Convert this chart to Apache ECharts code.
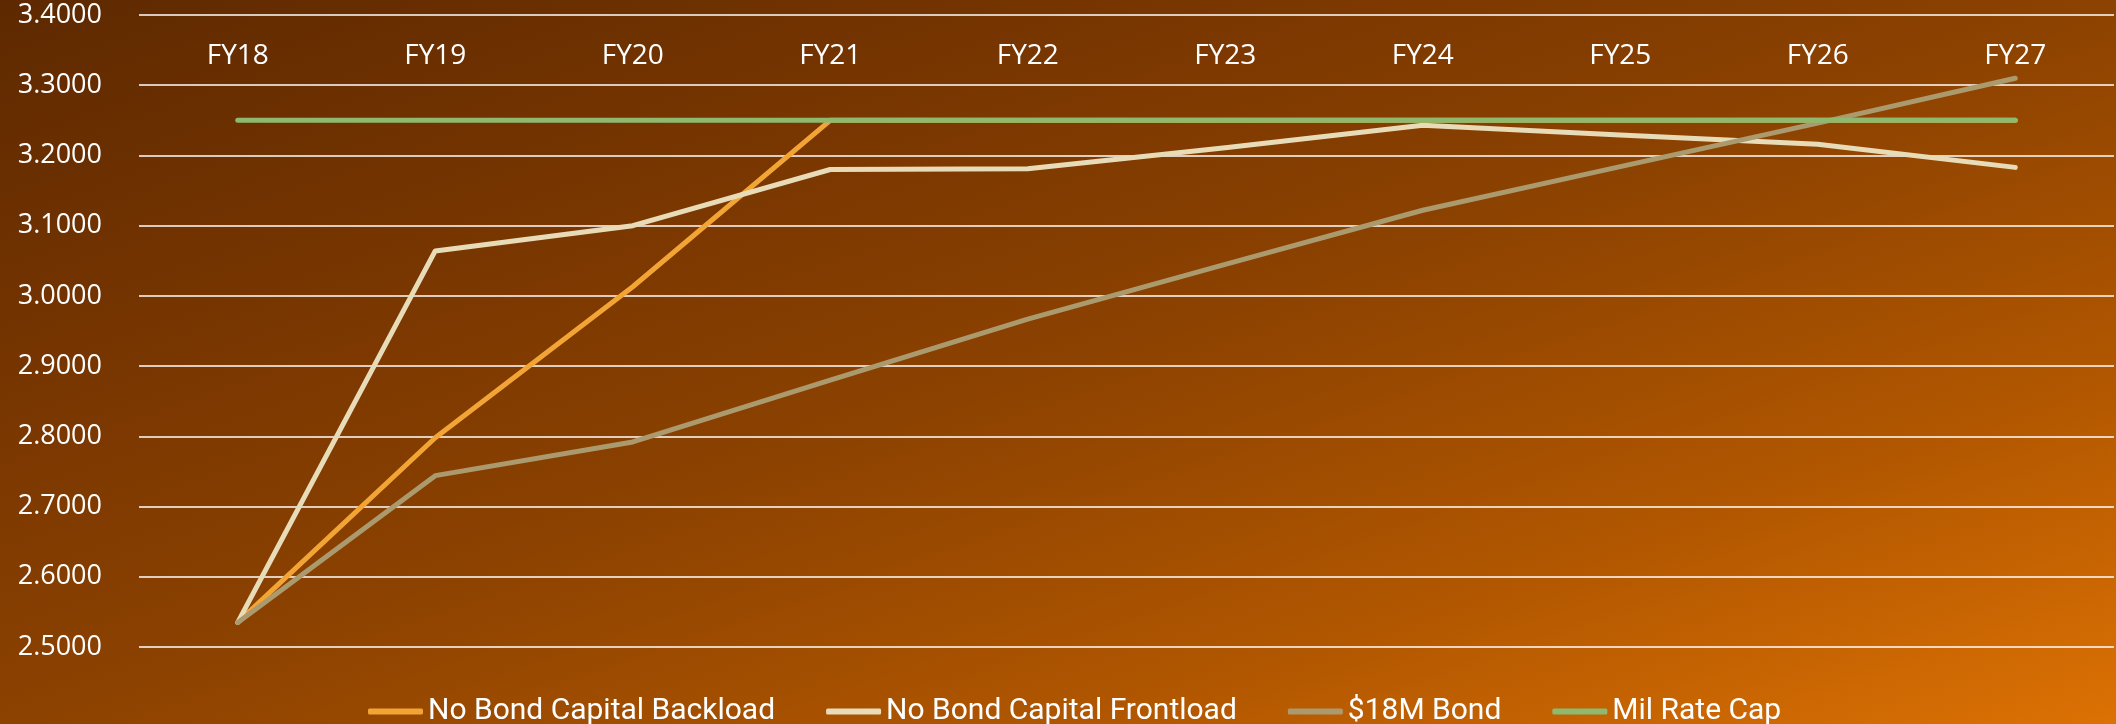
<!DOCTYPE html>
<html>
<head>
<meta charset="utf-8">
<script src="https://cdn.jsdelivr.net/npm/echarts@6/dist/echarts.min.js"></script>
<style>
  html, body { margin: 0; padding: 0; }
  #chart {
    width: 2116px; height: 724px;
    background: linear-gradient(to bottom right, #5e2900 0%, #7a3700 30%, #8c4200 50%, #b05600 75%, #dc7104 100%);
  }
</style>
</head>
<body>
<div id="chart"></div>
<script>
const categories = ['FY18', 'FY19', 'FY20', 'FY21', 'FY22', 'FY23', 'FY24', 'FY25', 'FY26', 'FY27'];
const noBondBackload = [2.535, 2.798, 3.013, 3.250, 3.250, 3.250, 3.250, 3.250, 3.250, 3.250];
const noBondFrontload = [2.535, 3.064, 3.100, 3.180, 3.181, 3.211, 3.243, 3.229, 3.216, 3.183];
const bond18M = [2.535, 2.744, 2.792, 2.880, 2.967, 3.045, 3.122, 3.184, 3.246, 3.310];
const milRateCap = [3.25, 3.25, 3.25, 3.25, 3.25, 3.25, 3.25, 3.25, 3.25, 3.25];
const seriesNames = ['No Bond Capital Backload', 'No Bond Capital Frontload', '$18M Bond', 'Mil Rate Cap'];
const seriesColors = ['#f2a535', '#e8dcb8', '#ab9a6e', '#8eba70'];
const seriesData = [noBondBackload, noBondFrontload, bond18M, milRateCap];

const chart = echarts.init(document.getElementById('chart'), null, { renderer: 'canvas' });
chart.setOption({
  backgroundColor: 'transparent',
  animation: false,
  grid: { left: 139, right: 2, top: 15, bottom: 77 },
  legend: {
    left: 363, top: 691,
    icon: 'roundRect',
    itemWidth: 55, itemHeight: 6,
    itemGap: 51,
    textStyle: { color: '#ffffff', fontSize: 30, lineHeight: 31, fontFamily: 'Roboto, "Open Sans", sans-serif' },
    data: seriesNames
  },
  xAxis: {
    type: 'category',
    data: categories,
    position: 'top',
    boundaryGap: true,
    axisLine: { show: false },
    axisTick: { show: false },
    axisLabel: {
      inside: true, margin: 41, verticalAlign: 'middle',
      color: '#ffffff', fontSize: 28, fontFamily: '"Open Sans", sans-serif'
    }
  },
  yAxis: {
    type: 'value',
    min: 2.5, max: 3.4, interval: 0.1,
    axisLine: { show: false },
    axisTick: { show: false },
    splitLine: { lineStyle: { color: '#ffffff', width: 1.5 } },
    axisLabel: {
      margin: 37, color: '#ffffff', fontSize: 27, fontFamily: '"Open Sans", sans-serif',
      formatter: v => v.toFixed(4)
    }
  },
  series: seriesNames.map((name, i) => ({
    name: name,
    type: 'line',
    data: seriesData[i],
    symbol: 'none',
    color: seriesColors[i],
    lineStyle: { width: 5, cap: 'round', join: 'round', color: seriesColors[i] },
    itemStyle: { color: seriesColors[i] }
  }))
});
</script>
</body>
</html>
